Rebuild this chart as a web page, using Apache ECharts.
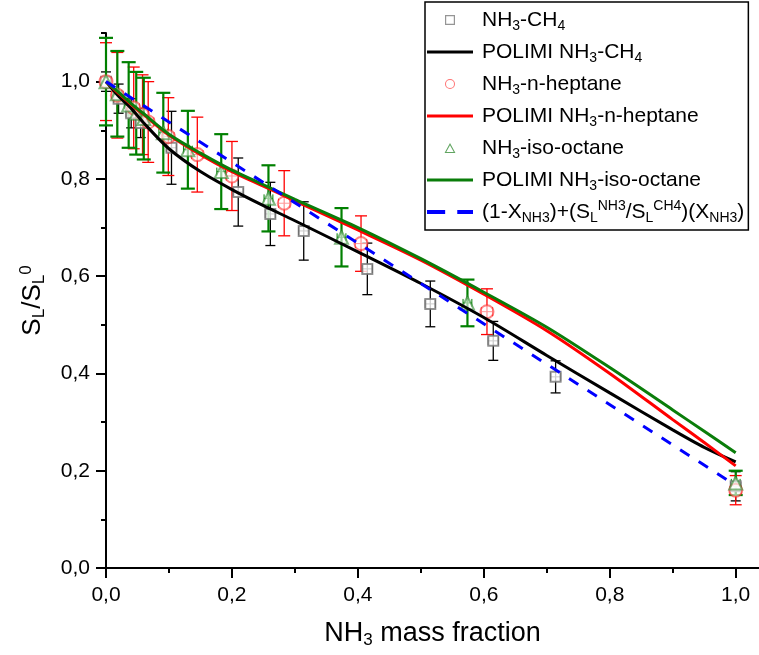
<!DOCTYPE html>
<html><head><meta charset="utf-8">
<script src="https://cdn.jsdelivr.net/npm/echarts@6/dist/echarts.min.js"></script>
<style>html,body{margin:0;padding:0;background:#fff}#c{width:759px;height:655px}</style>
</head><body><div id="c"></div>
<script>
// ---- data ----
const seriesNames = ['NH3-CH4','POLIMI NH3-CH4','NH3-n-heptane','POLIMI NH3-n-heptane','NH3-iso-octane','POLIMI NH3-iso-octane','(1-XNH3)+(SLNH3/SLCH4)(XNH3)'];
const legendRich = {
  'NH3-CH4':'NH{sub|3}-CH{sub|4}',
  'POLIMI NH3-CH4':'POLIMI NH{sub|3}-CH{sub|4}',
  'NH3-n-heptane':'NH{sub|3}-n-heptane',
  'POLIMI NH3-n-heptane':'POLIMI NH{sub|3}-n-heptane',
  'NH3-iso-octane':'NH{sub|3}-iso-octane',
  'POLIMI NH3-iso-octane':'POLIMI NH{sub|3}-iso-octane',
  '(1-XNH3)+(SLNH3/SLCH4)(XNH3)':'(1-X{sub|NH3})+(S{sub|L}{sup|NH3}/S{sub|L}{sup|CH4})(X{sub|NH3})'
};
const xTicks = [0,0.2,0.4,0.6,0.8,1.0];
const xMinorTicks = [0.1,0.3,0.5,0.7,0.9];
const yTicks = [0,0.2,0.4,0.6,0.8,1.0];
const yMinorTicks = [0.1,0.3,0.5,0.7,0.9,1.1];

// experimental points: NH3-CH4
const ch4X   = [0.0, 0.02, 0.04, 0.055, 0.104, 0.21, 0.261, 0.314, 0.415, 0.515, 0.615, 0.714, 1.0];
const ch4Y   = [1.0, 0.965, 0.935, 0.915, 0.864, 0.773, 0.728, 0.693, 0.615, 0.543, 0.467, 0.393, 0.168];
const ch4Err = [0.02, 0.03, 0.03, 0.03, 0.075, 0.07, 0.065, 0.06, 0.053, 0.047, 0.04, 0.033, 0.03];
const ch4XErr = 0.008;
// NH3-n-heptane
const hepX   = [0.0, 0.018, 0.044, 0.058, 0.067, 0.099, 0.145, 0.2, 0.283, 0.405, 0.605, 1.0];
const hepY   = [1.0, 0.972, 0.946, 0.932, 0.917, 0.887, 0.85, 0.806, 0.75, 0.667, 0.527, 0.16];
const hepErr = [0.08, 0.088, 0.084, 0.082, 0.083, 0.08, 0.077, 0.071, 0.067, 0.057, 0.047, 0.03];
const hepXErr = 0.009;
// NH3-iso-octane
const isoX   = [0.0, 0.018, 0.036, 0.048, 0.06, 0.091, 0.13, 0.183, 0.258, 0.374, 0.574, 1.0];
const isoY   = [1.0, 0.975, 0.952, 0.935, 0.924, 0.895, 0.86, 0.815, 0.76, 0.68, 0.545, 0.175];
const isoErr = [0.09, 0.088, 0.088, 0.085, 0.084, 0.082, 0.08, 0.077, 0.068, 0.06, 0.048, 0.025];
const isoXErr = 0.007;
// POLIMI model curves
const modelX    = [0, 0.01, 0.02, 0.04, 0.06, 0.1, 0.15, 0.2, 0.25, 0.3, 0.4, 0.5, 0.6, 0.7, 0.8, 0.9, 0.95, 1.0];
const polCH4    = [1.0, 0.985, 0.97, 0.945, 0.915, 0.862, 0.815, 0.778, 0.745, 0.714, 0.65, 0.585, 0.515, 0.437, 0.36, 0.284, 0.248, 0.218];
const polHep    = [1.0, 0.988, 0.976, 0.953, 0.932, 0.89, 0.85, 0.815, 0.785, 0.755, 0.695, 0.633, 0.563, 0.488, 0.4, 0.305, 0.258, 0.21];
const polIso    = [1.0, 0.989, 0.978, 0.955, 0.934, 0.892, 0.853, 0.818, 0.788, 0.758, 0.70, 0.636, 0.567, 0.495, 0.412, 0.325, 0.281, 0.237];
// linear mixing rule
const mixX = [0, 1.0];
const mixY = [1.0, 0.17];

// ---- build ----
const zip = (xs, ys) => xs.map((x, i) => [x, ys[i]]);
const errData = (xs, ys, es, xe) => xs.map((x, i) => [x, ys[i] - es[i], ys[i] + es[i], ys[i], xe]);
const fmt = v => v.toFixed(1).replace('.', ',');
const FONT = 'Liberation Sans';

function errRender(color, width, cap, xcap) {
  return function (params, api) {
    const x = api.value(0), lo = api.value(1), hi = api.value(2), y = api.value(3), xe = api.value(4);
    const p1 = api.coord([x, lo]), p2 = api.coord([x, hi]);
    const l = api.coord([x - xe, y]), r = api.coord([x + xe, y]);
    const h = cap / 2, hx = xcap / 2;
    const st = { stroke: color, lineWidth: width };
    const st2 = { stroke: color, lineWidth: 1 };
    return { type: 'group', children: [
      { type: 'line', shape: { x1: p1[0], y1: p1[1], x2: p2[0], y2: p2[1] }, style: st },
      { type: 'line', shape: { x1: p1[0] - h, y1: p1[1], x2: p1[0] + h, y2: p1[1] }, style: st },
      { type: 'line', shape: { x1: p2[0] - h, y1: p2[1], x2: p2[0] + h, y2: p2[1] }, style: st },
      { type: 'line', shape: { x1: l[0], y1: l[1], x2: r[0], y2: r[1] }, style: st2 },
      { type: 'line', shape: { x1: l[0], y1: l[1] - hx, x2: l[0], y2: l[1] + hx }, style: st2 },
      { type: 'line', shape: { x1: r[0], y1: r[1] - hx, x2: r[0], y2: r[1] + hx }, style: st2 }
    ]};
  };
}

const subRich = {
  sub: { fontSize: 14, lineHeight: 14, verticalAlign: 'bottom', fontFamily: FONT, color: '#000' },
  sup: { fontSize: 14, lineHeight: 14, verticalAlign: 'top', fontFamily: FONT, color: '#000' }
};

const ICON_RECT = 'path://M0,0H10V10H0Z M1.2,1.2V8.8H8.8V1.2Z';
const ICON_CIRC = 'path://M6,0A6,6 0 1,1 6,12A6,6 0 1,1 6,0Z M6,1.2A4.8,4.8 0 1,0 6,10.8A4.8,4.8 0 1,0 6,1.2Z';
const ICON_TRI  = 'path://M6,0L12,11H0Z M6,2.4L1.9,9.9H10.1Z';
const ICON_LINE = 'path://M0,0H46V3H0Z';
const ICON_DASH = 'path://M0,0H15V3.2H0Z M25,0H38V3.2H25Z';

const chart = echarts.init(document.getElementById('c'), null, { renderer: 'canvas' });
const option = {
  animation: false,
  backgroundColor: '#fff',
  grid: { left: 106, top: 33, right: 0, bottom: 87, containLabel: false, outerBoundsMode: 'none' },
  xAxis: [{
    type: 'value', min: 0, max: 1.037,
    name: 'NH{sub|3} mass fraction', nameLocation: 'middle', nameGap: 51,
    nameTextStyle: { fontSize: 27, fontFamily: FONT, color: '#000', lineHeight: 30,
      rich: { sub: { fontSize: 17, lineHeight: 17, verticalAlign: 'bottom', fontFamily: FONT, color: '#000' } } },
    axisLine: { lineStyle: { color: '#000', width: 2 } },
    axisTick: { inside: false, length: 10, lineStyle: { color: '#000', width: 2 }, customValues: xTicks },
    axisLabel: { customValues: xTicks, formatter: fmt, fontSize: 21, fontFamily: FONT, color: '#000', margin: 17 },
    splitLine: { show: false }
  }, {
    type: 'value', min: 0, max: 1.037, position: 'bottom', gridIndex: 0,
    axisLine: { show: false },
    axisTick: { inside: false, length: 5, lineStyle: { color: '#000', width: 2 }, customValues: xMinorTicks },
    axisLabel: { show: false }, splitLine: { show: false }
  }],
  yAxis: [{
    type: 'value', min: 0, max: 1.1,
    name: 'S{sub|L}/S{sub|L}{sup|0}', nameLocation: 'middle', nameRotate: 90, nameGap: 58,
    nameTextStyle: { fontSize: 26, fontFamily: FONT, color: '#000', lineHeight: 30,
      rich: {
        sub: { fontSize: 17, lineHeight: 17, verticalAlign: 'bottom', fontFamily: FONT, color: '#000' },
        sup: { fontSize: 17, lineHeight: 17, verticalAlign: 'top', fontFamily: FONT, color: '#000' }
      } },
    axisLine: { show: true, lineStyle: { color: '#000', width: 2 } },
    axisTick: { show: true, inside: false, length: 10, lineStyle: { color: '#000', width: 2 }, customValues: yTicks },
    axisLabel: { customValues: yTicks, formatter: fmt, fontSize: 21, fontFamily: FONT, color: '#000', margin: 16 },
    splitLine: { show: false }
  }, {
    type: 'value', min: 0, max: 1.1, position: 'left', gridIndex: 0,
    axisLine: { show: false },
    axisTick: { show: true, inside: false, length: 5, lineStyle: { color: '#000', width: 2 }, customValues: yMinorTicks },
    axisLabel: { show: false }, splitLine: { show: false }
  }],
  legend: {
    orient: 'vertical', left: 425, top: 2,
    padding: [5, 4, 5, 2], itemGap: 6, itemWidth: 46, itemHeight: 10,
    borderColor: '#000', borderWidth: 1.5, backgroundColor: '#fff',
    symbolKeepAspect: true,
    data: [
      { name: seriesNames[0], icon: ICON_RECT, itemStyle: { color: '#8a8a8a', borderWidth: 0, opacity: 0.9 } },
      { name: seriesNames[1], icon: ICON_LINE, itemStyle: { color: '#000', borderWidth: 0, opacity: 1 } },
      { name: seriesNames[2], icon: ICON_CIRC, itemStyle: { color: '#ff5050', borderWidth: 0, opacity: 0.8 } },
      { name: seriesNames[3], icon: ICON_LINE, itemStyle: { color: '#ff0000', borderWidth: 0, opacity: 1 } },
      { name: seriesNames[4], icon: ICON_TRI,  itemStyle: { color: '#3a8f3a', borderWidth: 0, opacity: 0.8 } },
      { name: seriesNames[5], icon: ICON_LINE, itemStyle: { color: '#0a7d0a', borderWidth: 0, opacity: 1 } },
      { name: seriesNames[6], icon: ICON_DASH, itemStyle: { color: '#0000ff', borderWidth: 0, opacity: 1 } }
    ],
    formatter: n => legendRich[n],
    textStyle: { fontSize: 21, fontFamily: FONT, color: '#000', lineHeight: 26, padding: [0, 0, 0, 4], rich: subRich }
  },
  series: [
    { type: 'custom', name: 'ch4err', renderItem: errRender('#000', 1.3, 10, 9), data: errData(ch4X, ch4Y, ch4Err, ch4XErr), encode: { x: 0, y: [1, 2] }, z: 2 },
    { type: 'custom', name: 'heperr', renderItem: errRender('#ff0000', 1.3, 12, 9), data: errData(hepX, hepY, hepErr, hepXErr), encode: { x: 0, y: [1, 2] }, z: 2 },
    { type: 'custom', name: 'isoerr', renderItem: errRender('#008000', 2.2, 14, 8), data: errData(isoX, isoY, isoErr, isoXErr), encode: { x: 0, y: [1, 2] }, z: 2 },
    { type: 'scatter', name: seriesNames[0], data: zip(ch4X, ch4Y), symbol: 'emptyRect', symbolSize: 10,
      itemStyle: { color: '#777', borderColor: '#777', borderWidth: 1.3, opacity: 0.8 }, z: 3 },
    { type: 'scatter', name: seriesNames[2], data: zip(hepX, hepY), symbol: 'emptyCircle', symbolSize: 13,
      itemStyle: { color: '#ff3030', borderColor: '#ff3030', borderWidth: 1.3, opacity: 0.6 }, z: 3 },
    { type: 'scatter', name: seriesNames[4], data: zip(isoX, isoY), symbol: 'emptyTriangle', symbolSize: 13,
      itemStyle: { color: '#2e8b2e', borderColor: '#2e8b2e', borderWidth: 1.3, opacity: 0.6 }, z: 3 },
    { type: 'line', name: seriesNames[1], data: zip(modelX, polCH4), symbol: 'none', smooth: 0.3,
      lineStyle: { color: '#000', width: 3 }, itemStyle: { color: '#000' }, z: 4 },
    { type: 'line', name: seriesNames[3], data: zip(modelX, polHep), symbol: 'none', smooth: 0.3,
      lineStyle: { color: '#ff0000', width: 3 }, itemStyle: { color: '#ff0000' }, z: 4 },
    { type: 'line', name: seriesNames[5], data: zip(modelX, polIso), symbol: 'none', smooth: 0.3,
      lineStyle: { color: '#0a7d0a', width: 3 }, itemStyle: { color: '#0a7d0a' }, z: 4 },
    { type: 'line', name: seriesNames[6], data: zip(mixX, mixY), symbol: 'none',
      lineStyle: { color: '#0000ff', width: 3, type: [11, 11] }, itemStyle: { color: '#0000ff' }, z: 5 }
  ]
};
chart.setOption(option);
</script>
</body></html>
